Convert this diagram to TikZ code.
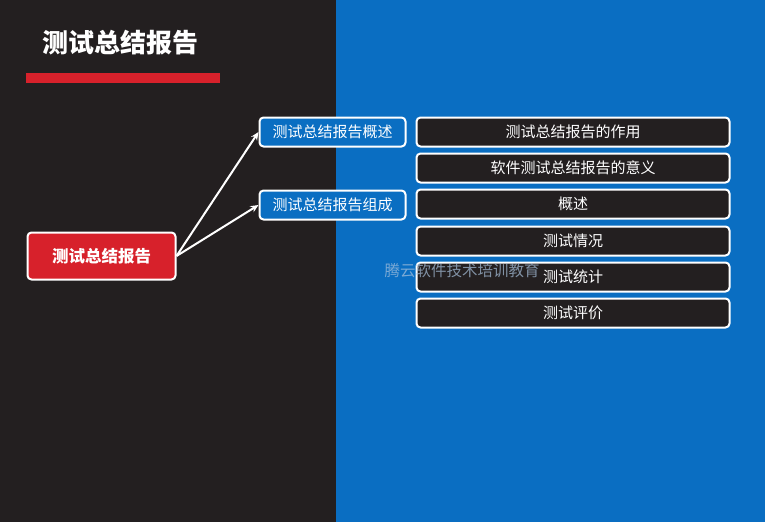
\documentclass[tikz,border=0pt]{standalone}
\usepackage{fontspec}
\newfontfamily\cjk{Noto Sans CJK SC}
\usetikzlibrary{arrows.meta}
\definecolor{darkbg}{HTML}{231F20}
\definecolor{bluebg}{HTML}{0A6EC2}
\definecolor{redbar}{HTML}{D7212B}
\definecolor{markgray}{HTML}{A9C2DD}
\tikzset{
  box/.style={draw=white, line width=2pt, rounded corners=4pt, text=white, inner sep=0pt},
  rootbox/.style={box, fill=redbar, minimum width=148pt, minimum height=47pt,
    font=\cjk\bfseries\fontsize{16.5}{18}\selectfont},
  midbox/.style={box, fill=bluebg, minimum width=146pt, minimum height=29pt,
    font=\cjk\fontsize{15}{17}\selectfont},
  itembox/.style={box, fill=darkbg, minimum width=313pt, minimum height=29pt,
    font=\cjk\fontsize{15}{17}\selectfont},
  link/.style={white, line width=2pt, -{Stealth[length=8pt,width=7pt]}}
}

\begin{document}
\begin{tikzpicture}[x=1pt,y=-1pt]
  % background halves
  \fill[darkbg] (0,0) rectangle (336,522);
  \fill[bluebg] (336,0) rectangle (765,522);
  \useasboundingbox (0,0) rectangle (765,522);
  % title
  \node[text=white, font=\cjk\bfseries\fontsize{26}{29}\selectfont] (title) at (120,43) {测试总结报告};
  \fill[redbar] (26,73) rectangle (220,83);
  % tree
  \node[rootbox] (root) at (101.5,256) {测试总结报告};
  \node[midbox] (over) at (332.5,132) {测试总结报告概述};
  \node[midbox] (parts) at (332.5,205) {测试总结报告组成};
  \node[itembox] (use) at (573,132) {测试总结报告的作用};
  \node[itembox] (mean) at (573,168) {软件测试总结报告的意义};
  \node[itembox] (brief) at (573,204) {概述};
  \node[itembox] (state) at (573,241) {测试情况};
  \node[itembox] (stat) at (573,277) {测试统计};
  \node[itembox] (judge) at (573,313) {测试评价};
  \draw[link] (root.east) -- (over.west);
  \draw[link] (root.east) -- (parts.west);
  % watermark
  \node[text=markgray, opacity=0.7, font=\cjk\fontsize{15.5}{17}\selectfont, anchor=west] (mark) at (381,271) {腾云软件技术培训教育};
\end{tikzpicture}
\end{document}
